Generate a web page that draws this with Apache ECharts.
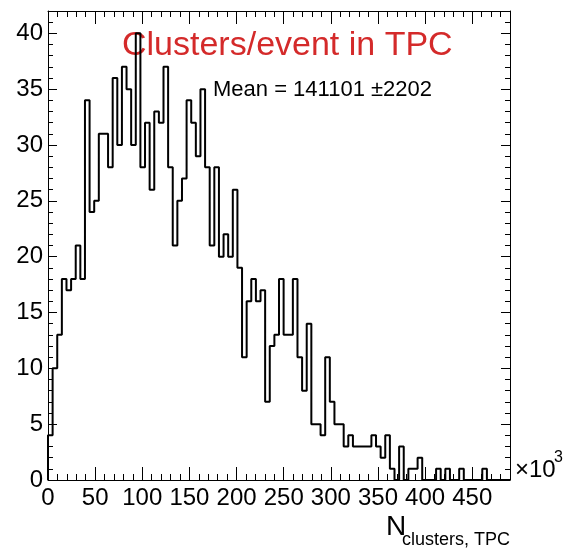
<!DOCTYPE html>
<html>
<head>
<meta charset="utf-8">
<script src="https://cdn.jsdelivr.net/npm/echarts@6/dist/echarts.min.js"></script>
<style>
  html, body { margin: 0; padding: 0; background: #ffffff; }
  #chart { width: 566px; height: 553px; }
</style>
</head>
<body>
<div id="chart"></div>
<script>
// Histogram of TPC clusters per event (x in units of 10^3 clusters)
const X_MIN = 0;
const X_MAX = 490;
const BIN_WIDTH = 4.9;
const Y_MAX = 42;

// entries per bin, 100 bins from X_MIN to X_MAX
const counts = [
  4, 10, 13, 18, 17, 18, 21, 18, 34, 24,
  25, 31, 31, 28, 36, 30, 37, 35, 30, 40,
  28, 32, 26, 33, 32, 37, 28, 21, 25, 27,
  34, 32, 29, 35, 28, 21, 28, 20, 22, 20,
  26, 19, 11, 16, 18, 16, 17, 7, 12, 13,
  18, 13, 13, 18, 11, 8, 14, 5, 5, 4,
  11, 7, 5, 5, 3, 4, 3, 3, 3, 3,
  4, 3, 2, 4, 1, 0, 3, 0, 1, 1,
  2, 0, 0, 0, 1, 0, 1, 0, 0, 1,
  0, 0, 0, 0, 1, 0, 0, 0, 0, 0
];

const xMajorTicks = [0, 50, 100, 150, 200, 250, 300, 350, 400, 450];
const yMajorTicks = [0, 5, 10, 15, 20, 25, 30, 35, 40];

const titleText = 'Clusters/event in TPC';
const statsText = 'Mean = 141101 \u00b12202';
const xTitleMain = 'N';
const xTitleSub = 'clusters, TPC';
const xScaleText = '\u00d710';
const xScaleExp = '3';

// step outline: start on the baseline, one horizontal run per bin
const stepData = [[X_MIN, 0]];
counts.forEach((c, i) => stepData.push([X_MIN + i * BIN_WIDTH, c]));
stepData.push([X_MIN + counts.length * BIN_WIDTH, 0]);

const FONT = '"Liberation Sans", Arial, Helvetica, sans-serif';
const black = '#000000';

function xAxisDef(pos, interval, len, withLine, withLabel) {
  return {
    type: 'value', position: pos, min: X_MIN, max: X_MAX, interval: interval,
    splitLine: { show: false },
    axisLine: { show: withLine, onZero: false, lineStyle: { color: black, width: 1 } },
    axisTick: { show: true, inside: true, length: len, lineStyle: { color: black, width: 1 } },
    axisLabel: withLabel ? {
      show: true, color: black, fontFamily: FONT, fontSize: 24, margin: 6,
      showMaxLabel: false,
      formatter: v => (xMajorTicks.indexOf(v) >= 0 ? String(v) : '')
    } : { show: false }
  };
}
function yAxisDef(pos, interval, len, withLine, withLabel) {
  return {
    type: 'value', position: pos, min: 0, max: Y_MAX, interval: interval,
    splitLine: { show: false },
    axisLine: { show: withLine, onZero: false, lineStyle: { color: black, width: 1 } },
    axisTick: { show: true, inside: true, length: len, lineStyle: { color: black, width: 1 } },
    axisLabel: withLabel ? {
      show: true, color: black, fontFamily: FONT, fontSize: 24, margin: 5,
      showMaxLabel: false,
      formatter: v => (yMajorTicks.indexOf(v) >= 0 ? String(v) : '')
    } : { show: false }
  };
}

const chart = echarts.init(document.getElementById('chart'), null, { renderer: 'canvas' });
chart.setOption({
  animation: false,
  backgroundColor: '#ffffff',
  grid: { left: 48, right: 56, top: 11, bottom: 73, containLabel: false },
  xAxis: [
    xAxisDef('bottom', 50, 13, true, true),
    xAxisDef('bottom', 10, 6, false, false),
    xAxisDef('top', 50, 13, true, false),
    xAxisDef('top', 10, 6, false, false)
  ],
  yAxis: [
    yAxisDef('left', 5, 9, true, true),
    yAxisDef('left', 1, 5, false, false),
    yAxisDef('right', 5, 9, true, false),
    yAxisDef('right', 1, 5, false, false)
  ],
  series: [{
    type: 'line',
    xAxisIndex: 0, yAxisIndex: 0,
    step: 'end',
    symbol: 'none',
    clip: false,
    lineStyle: { color: black, width: 2 },
    data: stepData
  }],
  graphic: [
    { type: 'text', left: 122, top: 29, style: { text: titleText, fill: '#d42a2a', font: '34px ' + FONT } },
    { type: 'text', left: 213, top: 79, style: { text: statsText, fill: black, font: '22px ' + FONT } },
    { type: 'text', left: 515, top: 458, style: { text: xScaleText, fill: black, font: '24px ' + FONT } },
    { type: 'text', left: 554, top: 450, style: { text: xScaleExp, fill: black, font: '16px ' + FONT } },
    { type: 'text', left: 386, top: 513, style: { text: xTitleMain, fill: black, font: '28px ' + FONT } },
    { type: 'text', left: 402, top: 531, style: { text: xTitleSub, fill: black, font: '18px ' + FONT } }
  ]
});
</script>
</body>
</html>
